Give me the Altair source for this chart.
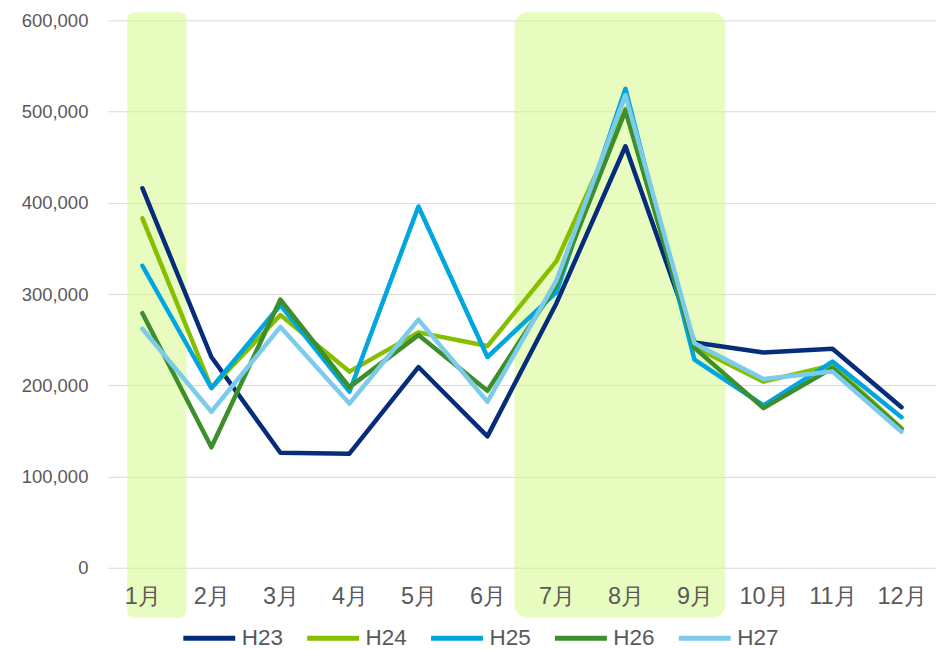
import altair as alt
import pandas as pd

months = list(range(1, 13))
series_names = ["H23", "H24", "H25", "H26", "H27"]
h23 = [416000, 231000, 126000, 125000, 220000, 144000, 290000, 462000, 247000, 236000, 240000, 176000]
h24 = [383000, 197000, 277000, 215000, 258000, 243000, 336000, 503000, 242000, 204000, 222000, 153000]
h25 = [331000, 197000, 288000, 193000, 396000, 231000, 302000, 525000, 228000, 178000, 226000, 165000]
h26 = [279000, 132000, 294000, 198000, 255000, 194000, 310000, 501000, 241000, 175000, 219000, 152000]
h27 = [262000, 171000, 264000, 180000, 272000, 182000, 315000, 518000, 246000, 207000, 215000, 149000]
colors = ["#062C7C", "#86BF00", "#00A6DD", "#3E8E2C", "#7CCBEB"]

# highlighted month spans
hl_start = [0.78, 6.39]
hl_end = [1.64, 9.45]

all_vals = [h23, h24, h25, h26, h27]
rows = []
for name, vals in zip(series_names, all_vals):
    for m, v in zip(months, vals):
        rows.append({"month": m, "value": v, "series": name, "order": series_names.index(name)})
df = pd.DataFrame(rows)

hl = pd.DataFrame({"start": hl_start, "end": hl_end})

FONT = "Liberation Sans"

x_scale = alt.Scale(domain=[0.5, 12.5], nice=False, zero=False)
y_scale = alt.Scale(domain=[0, 600000], nice=False)

rect1 = alt.Chart(hl.iloc[[0]]).mark_rect(
    color="#d7f98b", opacity=0.55, cornerRadius=7, clip=False
).encode(
    x=alt.X("start:Q", scale=x_scale),
    x2="end:Q",
    y=alt.value(-8),
    y2=alt.value(598),
)
rect2 = alt.Chart(hl.iloc[[1]]).mark_rect(
    color="#d7f98b", opacity=0.55, cornerRadius=13, clip=False
).encode(
    x=alt.X("start:Q", scale=x_scale),
    x2="end:Q",
    y=alt.value(-8),
    y2=alt.value(598),
)

lines = alt.Chart(df).mark_line(strokeWidth=4.5, strokeJoin="round", strokeCap="round").encode(
    x=alt.X(
        "month:Q",
        scale=x_scale,
        axis=alt.Axis(
            values=months,
            labelExpr="datum.value + '月'",
            title=None,
            grid=False,
            domain=False,
            ticks=False,
            labelFont=FONT,
            labelFontSize=23.5,
            labelColor="#595959",
            labelPadding=17,
            zindex=1,
        ),
    ),
    y=alt.Y(
        "value:Q",
        scale=y_scale,
        axis=alt.Axis(
            values=[0, 100000, 200000, 300000, 400000, 500000, 600000],
            format=",d",
            title=None,
            domain=False,
            ticks=False,
            gridColor="#d9d9d9",
            gridWidth=1,
            labelFont=FONT,
            labelFontSize=18.5,
            labelColor="#595959",
            labelPadding=20,
        ),
    ),
    color=alt.Color(
        "series:N",
        scale=alt.Scale(domain=series_names, range=colors),
        legend=alt.Legend(
            title=None,
            orient="none",
            direction="horizontal",
            legendX=73,
            legendY=590,
            symbolType="stroke",
            symbolSize=2700,
            symbolStrokeWidth=5,
            labelFont=FONT,
            labelFontSize=22.5,
            labelColor="#595959",
            labelOffset=4,
            columnPadding=13,
            padding=0,
        ),
    ),
    order=alt.Order("order:Q"),
)

chart = alt.layer(rect1, rect2, lines).properties(
    width=829,
    height=548,
    autosize=alt.AutoSizeParams(type="none"),
    padding={"left": 100, "top": 12, "right": 0, "bottom": 100},
).configure_view(stroke=None)

chart.save("out.html", embed_options={"renderer": "svg", "actions": False})
